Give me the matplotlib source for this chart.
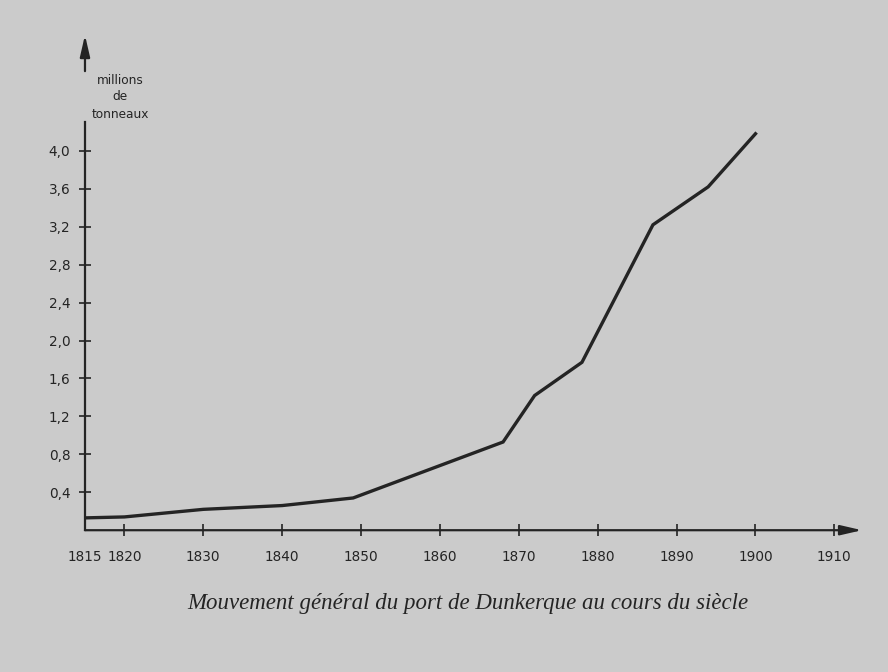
import matplotlib
matplotlib.use("Agg")
import matplotlib.pyplot as plt

years = [1815, 1820, 1830, 1840, 1849, 1868, 1872, 1878, 1887, 1894, 1900]
values = [0.13, 0.14, 0.22, 0.26, 0.34, 0.93, 1.42, 1.77, 3.22, 3.62, 4.18]
xticks = [1815, 1820, 1830, 1840, 1850, 1860, 1870, 1880, 1890, 1900, 1910]
yticks = [0.4, 0.8, 1.2, 1.6, 2.0, 2.4, 2.8, 3.2, 3.6, 4.0]
ylabels = ["0,4", "0,8", "1,2", "1,6", "2,0", "2,4", "2,8", "3,2", "3,6", "4,0"]
title = "Mouvement général du port de Dunkerque au cours du siècle"
unit = "millions\nde\ntonneaux"

bg = "#cbcbcb"
ink = "#242424"

fig = plt.figure(figsize=(8.88, 6.72), dpi=100, facecolor=bg)
ax = fig.add_axes([0.0957, 0.211, 0.875, 0.741], facecolor=bg)
ax.set_xlim(1815, 1913.5)
ax.set_ylim(0, 5.25)
for s in ax.spines.values():
    s.set_visible(False)

ax.plot(years, values, color=ink, lw=2.4, solid_joinstyle="miter")

# axes with arrows
ax.annotate("", xy=(1913.5, 0), xytext=(1815, 0), xycoords="data",
            arrowprops=dict(arrowstyle="-|>,head_length=1.3,head_width=0.3", color=ink, lw=1.6,
                            shrinkA=0, shrinkB=0), annotation_clip=False)
ax.plot([1815, 1815], [0, 4.3], color=ink, lw=1.6, clip_on=False)
ax.annotate("", xy=(1815, 5.22), xytext=(1815, 4.84), xycoords="data",
            arrowprops=dict(arrowstyle="-|>,head_length=1.3,head_width=0.3", color=ink, lw=1.6,
                            shrinkA=0, shrinkB=0), annotation_clip=False)

ax.set_xticks(xticks)
ax.set_xticklabels([str(x) for x in xticks])
ax.set_yticks(yticks)
ax.set_yticklabels(ylabels)
ax.tick_params(axis="both", direction="inout", length=9, width=1.2, color=ink,
               labelcolor=ink, labelsize=9.8)
ax.tick_params(axis="x", pad=10)
ax.tick_params(axis="y", pad=6)
ax.xaxis.get_major_ticks()[0].tick1line.set_visible(False)

fig.text(120 / 888, 1 - 97 / 672, unit, ha="center", va="center", fontsize=8.7,
         color=ink, linespacing=1.4)

fig.text(468 / 888, 1 - 603 / 672, title, ha="center", va="center",
         fontsize=16.5, style="italic", family="Liberation Serif", color=ink)

fig.savefig("out.png", dpi=100, facecolor=bg)
